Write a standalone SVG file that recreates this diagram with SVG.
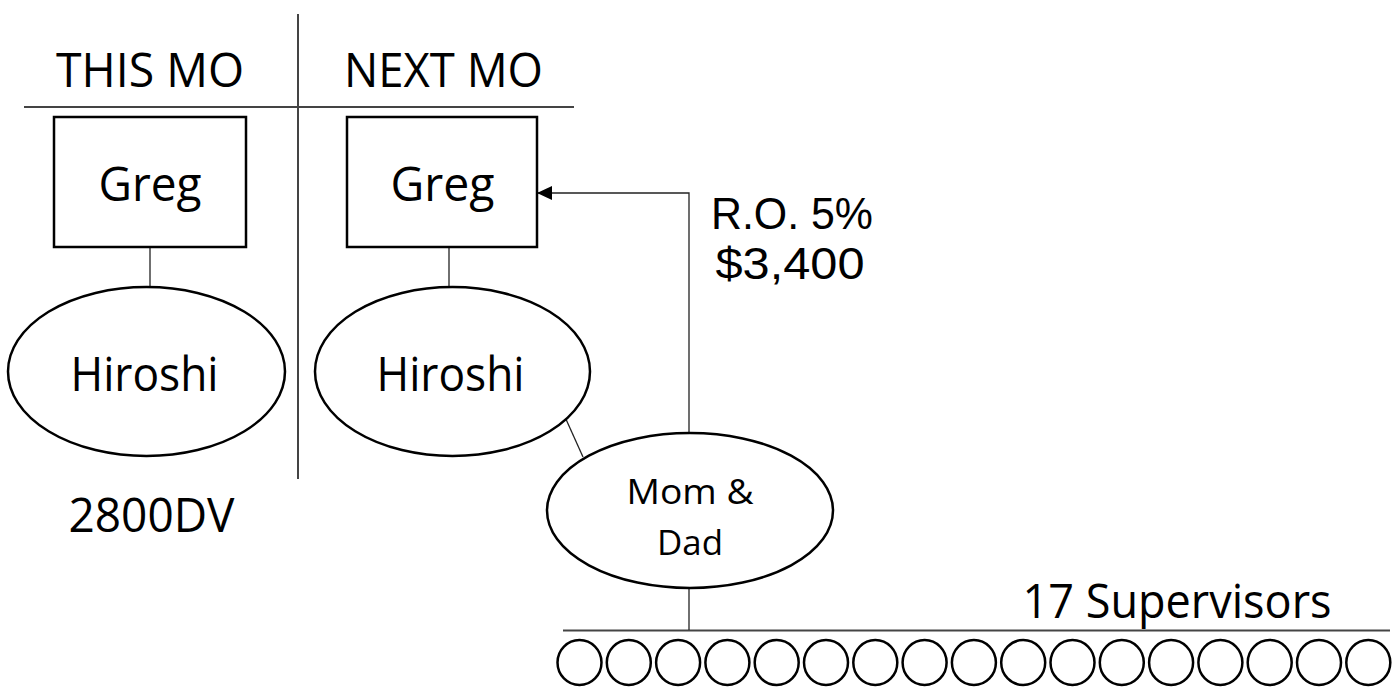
<svg xmlns="http://www.w3.org/2000/svg" width="1397" height="688" viewBox="0 0 1397 688">
<style>
.t{font-family:"Open Sans","Liberation Sans",sans-serif;font-size:47px;fill:#000}
.r{font-family:"Liberation Sans","Open Sans",sans-serif;font-size:44px;fill:#000}
.s{font-family:"Open Sans","Liberation Sans",sans-serif;font-size:35px;fill:#000}
.box{fill:#fff;stroke:#000;stroke-width:2.5}
.ell{fill:#fff;stroke:#000;stroke-width:2.5}
.rule{stroke:#444;stroke-width:2;fill:none}
.con{stroke:#222;stroke-width:1.3;fill:none}
.sup{fill:#fff;stroke:#000;stroke-width:2.5}
</style>
<defs>
<marker id="ah" markerWidth="15" markerHeight="14" refX="15" refY="7" orient="auto" markerUnits="userSpaceOnUse">
<path d="M0,0 L15,7 L0,14 Z" fill="#000"/>
</marker>
</defs>
<rect width="1397" height="688" fill="#fff"/>
<g id="grid">
<line class="rule" x1="298" y1="14" x2="298" y2="479"/>
<line class="rule" x1="24" y1="107" x2="574" y2="107"/>
<line class="rule" x1="563" y1="630.5" x2="1390" y2="630.5"/>
</g>
<g id="connectors">
<line class="con" x1="150" y1="247" x2="150" y2="288"/>
<line class="con" x1="449" y1="247" x2="449" y2="288"/>
<line class="con" x1="565" y1="417" x2="583" y2="457"/>
<line class="con" x1="689" y1="588" x2="689" y2="630"/>
<polyline class="con" points="689,433 689,193 537,193" marker-end="url(#ah)"/>
</g>
<g id="labels">
<text class="t" x="150" y="87" text-anchor="middle" textLength="188" lengthAdjust="spacingAndGlyphs">THIS MO</text>
<text class="t" x="443.5" y="87" text-anchor="middle" textLength="199" lengthAdjust="spacingAndGlyphs">NEXT MO</text>
<text class="r" x="792" y="229" text-anchor="middle" textLength="162" lengthAdjust="spacingAndGlyphs">R.O. 5%</text>
<text class="r" x="790" y="279" text-anchor="middle" textLength="149" lengthAdjust="spacingAndGlyphs">$3,400</text>
<text class="t" x="151.5" y="532" text-anchor="middle" textLength="166" lengthAdjust="spacingAndGlyphs">2800DV</text>
<text class="t" x="1177" y="618" text-anchor="middle" textLength="309" lengthAdjust="spacingAndGlyphs">17 Supervisors</text>
</g>
<g id="greg-this">
<rect class="box" x="54" y="117" width="192" height="130"/>
<text class="t" x="150" y="201" text-anchor="middle" textLength="103" lengthAdjust="spacingAndGlyphs">Greg</text>
</g>
<g id="greg-next">
<rect class="box" x="347" y="117" width="190" height="130"/>
<text class="t" x="442.5" y="201" text-anchor="middle" textLength="104" lengthAdjust="spacingAndGlyphs">Greg</text>
</g>
<g id="hiroshi-this">
<ellipse class="ell" cx="146.5" cy="371.5" rx="138.5" ry="84.5"/>
<text class="t" x="144.5" y="391" text-anchor="middle" textLength="148" lengthAdjust="spacingAndGlyphs">Hiroshi</text>
</g>
<g id="hiroshi-next">
<ellipse class="ell" cx="452.5" cy="371.5" rx="137.5" ry="84.5"/>
<text class="t" x="450.5" y="391" text-anchor="middle" textLength="148" lengthAdjust="spacingAndGlyphs">Hiroshi</text>
</g>
<g id="mom-dad">
<ellipse class="ell" cx="690" cy="510.5" rx="143" ry="77.5"/>
<text class="s" x="690" y="504" text-anchor="middle" textLength="127" lengthAdjust="spacingAndGlyphs">Mom &amp;</text>
<text class="s" x="690" y="555" text-anchor="middle" textLength="66" lengthAdjust="spacingAndGlyphs">Dad</text>
</g>
<g id="supervisors">
<ellipse class="sup" cx="579.5" cy="662.5" rx="22" ry="22.5"/>
<ellipse class="sup" cx="628.8" cy="662.5" rx="22" ry="22.5"/>
<ellipse class="sup" cx="678.1" cy="662.5" rx="22" ry="22.5"/>
<ellipse class="sup" cx="727.4" cy="662.5" rx="22" ry="22.5"/>
<ellipse class="sup" cx="776.7" cy="662.5" rx="22" ry="22.5"/>
<ellipse class="sup" cx="826" cy="662.5" rx="22" ry="22.5"/>
<ellipse class="sup" cx="875.3" cy="662.5" rx="22" ry="22.5"/>
<ellipse class="sup" cx="924.6" cy="662.5" rx="22" ry="22.5"/>
<ellipse class="sup" cx="973.9" cy="662.5" rx="22" ry="22.5"/>
<ellipse class="sup" cx="1023.2" cy="662.5" rx="22" ry="22.5"/>
<ellipse class="sup" cx="1072.5" cy="662.5" rx="22" ry="22.5"/>
<ellipse class="sup" cx="1121.8" cy="662.5" rx="22" ry="22.5"/>
<ellipse class="sup" cx="1171.1" cy="662.5" rx="22" ry="22.5"/>
<ellipse class="sup" cx="1220.4" cy="662.5" rx="22" ry="22.5"/>
<ellipse class="sup" cx="1269.7" cy="662.5" rx="22" ry="22.5"/>
<ellipse class="sup" cx="1319" cy="662.5" rx="22" ry="22.5"/>
<ellipse class="sup" cx="1368.3" cy="662.5" rx="22" ry="22.5"/>
</g>
</svg>
